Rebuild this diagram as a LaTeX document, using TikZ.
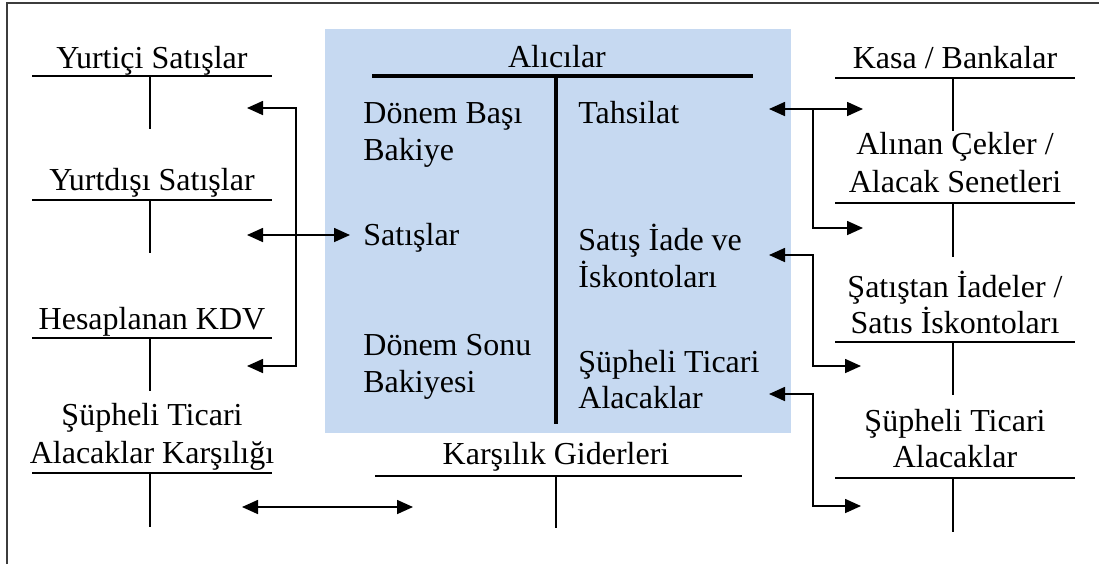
\documentclass[tikz,border=0pt]{standalone}
\usepackage{fontspec}
\setmainfont{Liberation Serif}
\usetikzlibrary{arrows.meta}
\definecolor{panelblue}{RGB}{198,217,241}
\definecolor{framegray}{RGB}{60,60,60}
\begin{document}
\begin{tikzpicture}[x=0.5pt,y=-0.5pt,
  lbl/.style={inner sep=0pt, anchor=base, font=\fontsize{16}{18}\selectfont},
  lblw/.style={lbl, anchor=base west},
  tline/.style={line width=0.85pt},
  tbold/.style={line width=1.6pt},
  link/.style={line width=0.85pt},
  head/.tip={Triangle[length=8pt,width=7pt]},
  onetip/.style={link,-head},
  twotips/.style={link,head-head}]
\useasboundingbox (0,0) rectangle (1099,564);

% shaded main account
\fill[panelblue] (325,29) rectangle (791,433);
% page frame
\draw[framegray, line width=0.85pt] (7,564) -- (7,3) -- (1099,3);

% ---- Alıcılar (main T-account)
\node[lbl] (alc) at (557,67) {Alıcılar};
\draw[tbold] (372,76) -- (753,76);
\draw[tbold] (556,76) -- (556,424);
\node[lblw] (db1) at (363,123) {Dönem Başı};
\node[lblw] (db2) at (363,160) {Bakiye};
\node[lblw] (sat) at (363,245) {Satışlar};
\node[lblw] (ds1) at (363,355) {Dönem Sonu};
\node[lblw] (ds2) at (363,392) {Bakiyesi};
\node[lblw] (tah) at (578,123) {Tahsilat};
\node[lblw] (si1) at (578,250) {Satış İade ve};
\node[lblw] (si2) at (578,287) {İskontoları};
\node[lblw] (st1) at (578,372) {Şüpheli Ticari};
\node[lblw] (st2) at (578,408) {Alacaklar};

% ---- left column accounts
\node[lbl] (yi) at (152,68) {Yurtiçi Satışlar};
\draw[tline] (32,76) -- (272,76);  \draw[tline] (150,76) -- (150,129);
\node[lbl] (yd) at (152,190) {Yurtdışı Satışlar};
\draw[tline] (32,200) -- (272,200); \draw[tline] (150,200) -- (150,253);
\node[lbl] (kdv) at (152,329) {Hesaplanan KDV};
\draw[tline] (32,338) -- (272,338); \draw[tline] (150,338) -- (150,391);
\node[lbl] (stk1) at (152,425) {Şüpheli Ticari};
\node[lbl] (stk2) at (152,463) {Alacaklar Karşılığı};
\draw[tline] (32,473) -- (272,473); \draw[tline] (150,473) -- (150,527);

% ---- bottom middle account
\node[lbl] (kg) at (556,464) {Karşılık Giderleri};
\draw[tline] (375,476) -- (742,476); \draw[tline] (556,476) -- (556,528);

% ---- right column accounts
\node[lbl] (kb) at (955,68) {Kasa / Bankalar};
\draw[tline] (835,78) -- (1075,78);  \draw[tline] (953,78) -- (953,131);
\node[lbl] (ac1) at (955,154) {Alınan Çekler /};
\node[lbl] (ac2) at (955,192) {Alacak Senetleri};
\draw[tline] (835,203) -- (1075,203); \draw[tline] (953,203) -- (953,257);
\node[lbl] (si3) at (955,297) {Şatıştan İadeler /};
\node[lbl] (si4) at (955,333) {Satıs İskontoları};
\draw[tline] (835,342) -- (1075,342); \draw[tline] (953,342) -- (953,395);
\node[lbl] (sr1) at (955,431) {Şüpheli Ticari};
\node[lbl] (sr2) at (955,467) {Alacaklar};
\draw[tline] (835,478) -- (1075,478); \draw[tline] (953,478) -- (953,532);

% ---- connector end points
\coordinate (yiT) at (247,108);
\coordinate (brT) at (296,108);
\coordinate (brB) at (296,366);
\coordinate (kdvT) at (247,366);
\coordinate (ydT) at (247,235);
\coordinate (satT) at (350,235);
\coordinate (stkT) at (242,507);
\coordinate (kgT) at (413,507);

\coordinate (tahT) at (769,109);
\coordinate (kbT) at (863,109);
\coordinate (tahJ) at (813,109);
\coordinate (acJ) at (813,228);
\coordinate (acT) at (863,228);
\coordinate (siT) at (769,255);
\coordinate (siJ1) at (813,255);
\coordinate (siJ2) at (813,366);
\coordinate (siR) at (861,366);
\coordinate (stT) at (769,394);
\coordinate (stJ1) at (813,394);
\coordinate (stJ2) at (813,506);
\coordinate (stR) at (861,506);

% ---- connectors
\draw[twotips] (yiT) -- (brT) -- (brB) -- (kdvT);
\draw[twotips] (ydT) -- (satT);
\draw[twotips] (stkT) -- (kgT);
\draw[twotips] (tahT) -- (kbT);
\draw[onetip] (tahJ) -- (acJ) -- (acT);
\draw[twotips] (siT) -- (siJ1) -- (siJ2) -- (siR);
\draw[twotips] (stT) -- (stJ1) -- (stJ2) -- (stR);
\end{tikzpicture}
\end{document}
